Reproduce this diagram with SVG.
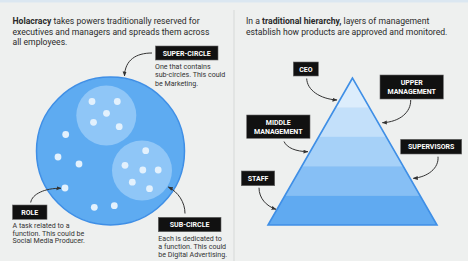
<svg xmlns="http://www.w3.org/2000/svg" width="468" height="261" viewBox="0 0 468 261">
<style>
.intro{font-family:Roboto,"Liberation Sans",sans-serif;font-size:8.65px;fill:#2a2a2a}
.desc{font-family:Roboto,"Liberation Sans",sans-serif;font-size:7.1px;fill:#333}
.lab rect{fill:#111;stroke:#666;stroke-width:0.6}
.lab text{font-family:Roboto,"Liberation Sans",sans-serif;font-size:7px;font-weight:bold;fill:#fff;text-anchor:middle}
.conn path{fill:none;stroke:#333;stroke-width:1}
.dot{fill:#e3f1fd}
</style>
<defs>
<marker id="ah" markerUnits="userSpaceOnUse" markerWidth="5" markerHeight="5" viewBox="0 0 10 10" refX="9" refY="5" orient="auto">
<path d="M0,1 L10,5 L0,9 z" fill="#333"/>
</marker>
<clipPath id="tri"><path d="M352.5,78 L268,225 L437,225 Z"/></clipPath>
</defs>
<rect width="468" height="261" fill="#eef0ef"/>
<rect width="468" height="2.5" fill="#dbe7f1"/>
<line x1="234" y1="10" x2="234" y2="261" stroke="#d6d9d8" stroke-width="1"/>

<g id="intro-left">
<text class="intro" x="12.5" y="24"><tspan font-weight="bold">Holacracy</tspan> takes powers traditionally reserved for</text>
<text class="intro" x="12.5" y="34.5">executives and managers and spreads them across</text>
<text class="intro" x="12.5" y="45">all employees.</text>
</g>
<g id="intro-right">
<text class="intro" x="246" y="24">In a <tspan font-weight="bold">traditional hierarchy,</tspan> layers of management</text>
<text class="intro" x="246" y="34.5">establish how products are approved and monitored.</text>
</g>

<g id="super-circle">
<circle cx="110.5" cy="151" r="74" fill="#5eabf1" stroke="#3f8fe6" stroke-width="1.5"/>
<circle class="dot" cx="65.7" cy="134.5" r="3.4"/>
<circle class="dot" cx="58" cy="157" r="3.4"/>
<circle class="dot" cx="79" cy="164" r="3.4"/>
<circle class="dot" cx="65" cy="188" r="3.4"/>
<circle class="dot" cx="94.3" cy="207.3" r="3.4"/>
<circle class="dot" cx="114.3" cy="205.7" r="3.4"/>
</g>
<g id="sub-circle-1">
<circle cx="106.3" cy="115.5" r="30" fill="#8fc6f7"/>
<circle class="dot" cx="92" cy="101.5" r="3.4"/>
<circle class="dot" cx="117.3" cy="101.5" r="3.4"/>
<circle class="dot" cx="106.5" cy="113.3" r="3.4"/>
<circle class="dot" cx="93.5" cy="122.3" r="3.4"/>
<circle class="dot" cx="119.2" cy="126.7" r="3.4"/>
</g>
<g id="sub-circle-2">
<circle cx="142" cy="170.5" r="30" fill="#8fc6f7"/>
<circle class="dot" cx="145.7" cy="150.7" r="3.4"/>
<circle class="dot" cx="125" cy="165.3" r="3.4"/>
<circle class="dot" cx="142.8" cy="170" r="3.4"/>
<circle class="dot" cx="158.2" cy="170" r="3.4"/>
<circle class="dot" cx="132.3" cy="182.2" r="3.4"/>
<circle class="dot" cx="149.5" cy="188.7" r="3.4"/>
</g>

<g id="pyramid">
<g clip-path="url(#tri)">
<rect x="260" y="78" width="185" height="29.6" fill="#dcedfc"/>
<rect x="260" y="107.4" width="185" height="29.6" fill="#c3e0fa"/>
<rect x="260" y="136.8" width="185" height="29.6" fill="#a6d1f8"/>
<rect x="260" y="166.2" width="185" height="29.6" fill="#86bff5"/>
<rect x="260" y="195.6" width="185" height="29.6" fill="#60aaf1"/>
</g>
<path d="M352.5,78 L268,225 L437,225 Z" fill="none" stroke="#3f8fe6" stroke-width="1.6" stroke-linejoin="miter"/>
</g>

<g id="label-super-circle" class="lab">
<rect x="155.5" y="46" width="62.5" height="14"/>
<text x="186.7" y="55.6">SUPER-CIRCLE</text>
<text class="desc" x="155" y="69" style="text-anchor:start;font-weight:normal;fill:#333;font-size:7.1px">One that contains</text>
<text class="desc" x="155" y="77.3" style="text-anchor:start;font-weight:normal;fill:#333;font-size:7.1px">sub-circles. This could</text>
<text class="desc" x="155" y="85.6" style="text-anchor:start;font-weight:normal;fill:#333;font-size:7.1px">be Marketing.</text>
</g>
<g id="label-role" class="lab">
<rect x="12.5" y="205" width="34.5" height="14.3"/>
<text x="29.7" y="214.8">ROLE</text>
<text class="desc" x="12.5" y="227.8" style="text-anchor:start;font-weight:normal;fill:#333;font-size:7.1px">A task related to a</text>
<text class="desc" x="12.5" y="235.6" style="text-anchor:start;font-weight:normal;fill:#333;font-size:7.1px">function. This could be</text>
<text class="desc" x="12.5" y="243.4" style="text-anchor:start;font-weight:normal;fill:#333;font-size:7.1px">Social Media Producer.</text>
</g>
<g id="label-sub-circle" class="lab">
<rect x="158.3" y="217.3" width="62.7" height="14.4"/>
<text x="189.6" y="227">SUB-CIRCLE</text>
<text class="desc" x="158.3" y="241" style="text-anchor:start;font-weight:normal;fill:#333;font-size:7.1px">Each is dedicated to</text>
<text class="desc" x="158.3" y="249" style="text-anchor:start;font-weight:normal;fill:#333;font-size:7.1px">a function. This could</text>
<text class="desc" x="158.3" y="257" style="text-anchor:start;font-weight:normal;fill:#333;font-size:7.1px">be Digital Advertising.</text>
</g>

<g id="label-ceo" class="lab">
<rect x="293.3" y="62" width="25" height="14"/>
<text x="305.8" y="71.6">CEO</text>
</g>
<g id="label-upper" class="lab">
<rect x="380" y="75" width="63.3" height="24"/>
<text x="411.7" y="85.3">UPPER</text>
<text x="411.7" y="94">MANAGEMENT</text>
</g>
<g id="label-middle" class="lab">
<rect x="246.7" y="115" width="63.3" height="23.3"/>
<text x="278.3" y="125">MIDDLE</text>
<text x="278.3" y="133.7">MANAGEMENT</text>
</g>
<g id="label-supervisors" class="lab">
<rect x="400.7" y="139.3" width="61" height="14.7"/>
<text x="431.2" y="149.2">SUPERVISORS</text>
</g>
<g id="label-staff" class="lab">
<rect x="241.3" y="171" width="33.4" height="14.7"/>
<text x="258" y="180.8">STAFF</text>
</g>

<g id="connectors" class="conn">
<path d="M152,53 C136,53 125,60 124.5,76" marker-end="url(#ah)"/>
<path d="M30.7,202.5 C32,194 45,188 61,188.3" marker-end="url(#ah)"/>
<path d="M185,213.5 C185,202 178,192 168.3,187" marker-end="url(#ah)"/>
<path d="M306.7,78.5 C307,90 320,99 337,100" marker-end="url(#ah)"/>
<path d="M410.7,100 C411,112 400,122 382.3,122.7" marker-end="url(#ah)"/>
<path d="M284,141.5 C287,148 296,151.5 308,151.7" marker-end="url(#ah)"/>
<path d="M438,156.7 C439,168 428,177 413.3,178.3" marker-end="url(#ah)"/>
<path d="M259,187.7 C259,198 266,206 276,209.3" marker-end="url(#ah)"/>
</g>
</svg>
